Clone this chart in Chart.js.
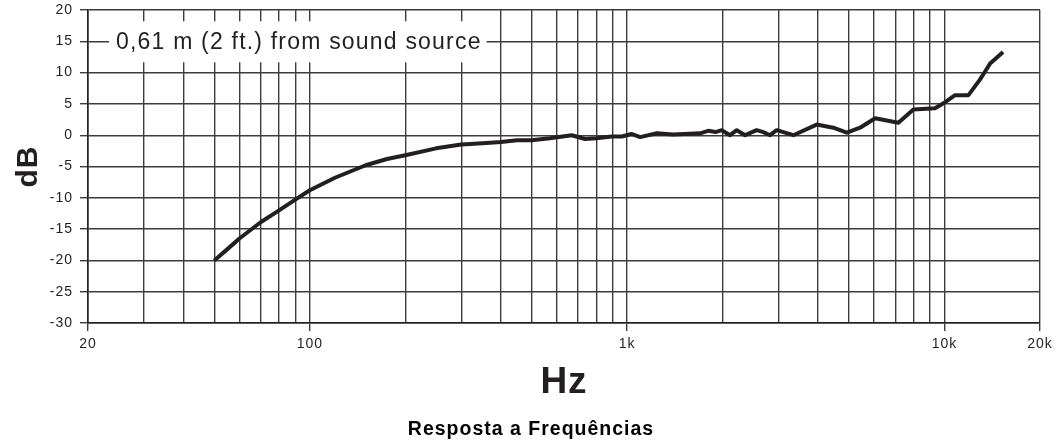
<!DOCTYPE html>
<html>
<head>
<meta charset="utf-8">
<script src="https://cdn.jsdelivr.net/npm/chart.js@4"></script>
<style>
  html, body { margin: 0; padding: 0; background: #ffffff; }
  #wrap { width: 1056px; height: 442px; }
</style>
</head>
<body>
<div id="wrap"><canvas id="freqChart" width="1056" height="442"></canvas></div>
<script>
// frequency response (Hz / dB)
const freqs = [50, 55, 60, 70, 80, 90, 100, 120, 150, 175, 200, 250, 300, 350, 400, 450, 500,
  571, 669, 737, 800, 894, 962, 1032, 1099, 1240, 1396, 1697, 1800, 1900, 1986, 2110, 2215,
  2354, 2560, 2687, 2820, 2960, 3340, 3955, 4464, 4923, 5420, 6047, 7158, 7980, 9337, 9926,
  10800, 11900, 12900, 13400, 13900, 15300];
const dbValues = [-20, -18.2, -16.5, -13.9, -12.0, -10.3, -8.8, -6.8, -4.8, -3.8, -3.2, -2.1, -1.5, -1.3, -1.1, -0.8, -0.8,
  -0.5, 0, -0.6, -0.5, -0.2, -0.2, 0.2, -0.3, 0.3, 0.1, 0.3, 0.7, 0.5, 0.8, 0, 0.8,
  0, 0.8, 0.5, 0, 0.8, 0, 1.7, 1.2, 0.4, 1.2, 2.7, 2.0, 4.1, 4.3, 5.1,
  6.4, 6.4, 8.8, 10.1, 11.4, 13.3];

// grid positions on the log axis and the ones that get a label
const xGridValues = [20, 30, 40, 50, 60, 70, 80, 90, 100, 200, 300, 400, 500, 600, 700, 800, 900,
  1000, 2000, 3000, 4000, 5000, 6000, 7000, 8000, 9000, 10000, 20000];
const xTickLabels = { 20: "20", 100: "100", 1000: "1k", 10000: "10k", 20000: "20k" };

const yMin = -30, yMax = 20, yStep = 5;
const noteText = "0,61 m (2 ft.) from sound source";
const noteValue = 15;
const bottomTitle = "Resposta a Frequências";

const fontFamily = "'Liberation Sans', Arial, sans-serif";
const gridColor = "#3c3c3c";
const labelColor = "#231f20";

// the reference type is set a little wide, so add some tracking to all canvas text
const trackingPlugin = {
  id: "tracking",
  beforeInit(chart) { chart.ctx.letterSpacing = "1px"; },
  beforeUpdate(chart) { chart.ctx.letterSpacing = "1px"; },
  beforeDraw(chart) { chart.ctx.letterSpacing = "1px"; }
};

// white box with the measuring-distance note on the 15 dB line, plus the caption under the chart
const notePlugin = {
  id: "note",
  afterDraw(chart) {
    const { ctx, chartArea, scales } = chart;
    const y = scales.y.getPixelForValue(noteValue);
    ctx.save();
    ctx.letterSpacing = "1.2px";
    ctx.font = "23px " + fontFamily;
    const w = ctx.measureText(noteText).width;
    const x0 = chartArea.left + 21;
    ctx.fillStyle = "#ffffff";
    ctx.fillRect(x0, y - 20, w + 12, 41);
    ctx.fillStyle = labelColor;
    ctx.textBaseline = "alphabetic";
    ctx.fillText(noteText, x0 + 7, y + 8);

    ctx.letterSpacing = "1px";
    ctx.font = "bold 19.5px " + fontFamily;
    ctx.fillStyle = "#000000";
    ctx.textAlign = "center";
    ctx.fillText(bottomTitle, 531, 435);
    ctx.restore();
  }
};

new Chart(document.getElementById("freqChart"), {
  type: "scatter",
  data: {
    datasets: [{
      data: freqs.map((f, i) => ({ x: f, y: dbValues[i] })),
      showLine: true,
      borderColor: "#231f20",
      borderWidth: 4,
      pointRadius: 0,
      tension: 0,
      borderJoinStyle: "round",
      borderCapStyle: "butt"
    }]
  },
  options: {
    responsive: false,
    animation: false,
    layout: { padding: { top: 10, right: 16, left: 0, bottom: 35 } },
    plugins: {
      legend: { display: false },
      tooltip: { enabled: false },
      title: { display: false }
    },
    scales: {
      x: {
        type: "logarithmic",
        min: 20,
        max: 20000,
        afterBuildTicks: (scale) => {
          scale.ticks = xGridValues.map(v => ({ value: v }));
        },
        afterFit: (scale) => {
          scale.height = 84;
          scale.paddingLeft = 0;
          scale.paddingRight = 0;
        },
        ticks: {
          autoSkip: false,
          maxRotation: 0,
          padding: 5,
          color: labelColor,
          font: { family: fontFamily, size: 14 },
          callback: (value) => xTickLabels[value] || ""
        },
        grid: {
          color: gridColor,
          lineWidth: 1.4,
          tickLength: 8,
          tickColor: (c) => (xTickLabels[c.tick.value] ? gridColor : "rgba(0,0,0,0)")
        },
        border: { color: "#222222", width: 1.6 },
        title: {
          display: true,
          text: "Hz",
          color: labelColor,
          font: { family: fontFamily, size: 37, weight: "bold" },
          padding: { top: 0, bottom: 2 }
        }
      },
      y: {
        min: yMin,
        max: yMax,
        afterFit: (scale) => {
          scale.width = 88;
          scale.paddingTop = 0;
          scale.paddingBottom = 0;
        },
        ticks: {
          stepSize: yStep,
          padding: 7,
          color: labelColor,
          font: { family: fontFamily, size: 14 }
        },
        grid: {
          color: gridColor,
          lineWidth: 1.4,
          tickLength: 8
        },
        border: { color: "#222222", width: 1.6 },
        title: {
          display: true,
          text: "dB",
          color: labelColor,
          font: { family: fontFamily, size: 30, weight: "bold" },
          padding: { top: 11, bottom: 0 }
        }
      }
    }
  },
  plugins: [trackingPlugin, notePlugin]
});
</script>
</body>
</html>
